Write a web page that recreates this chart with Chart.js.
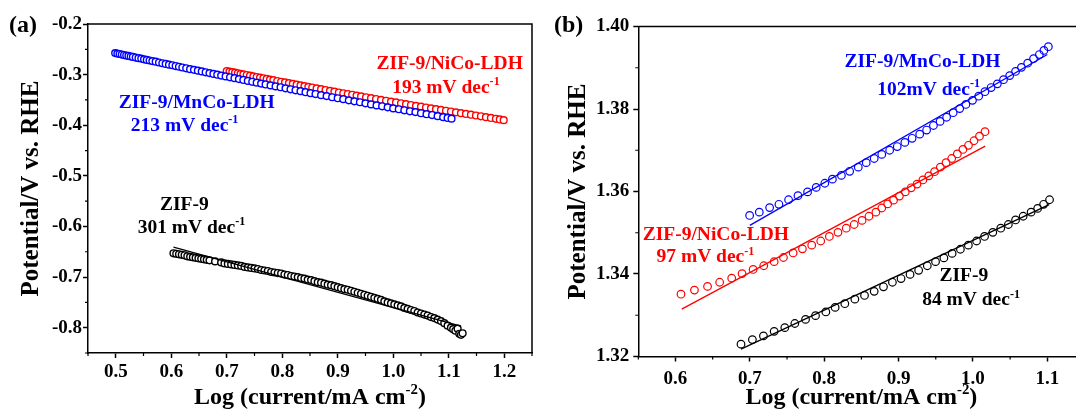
<!DOCTYPE html>
<html>
<head>
<meta charset="utf-8">
<script src="https://cdn.jsdelivr.net/npm/chart.js@4.4.0/dist/chart.umd.min.js"></script>
<style>
  html, body { margin: 0; padding: 0; background: #fff; }
  body { width: 1076px; height: 412px; overflow: hidden; position: relative; }
  canvas { position: absolute; top: 0; }
  #chartA { left: 0; }
  #chartB { left: 540px; }
</style>
</head>
<body>
<canvas id="chartA" width="540" height="412"></canvas>
<canvas id="chartB" width="560" height="412"></canvas>
<script>
const FONT = '"Liberation Serif", "Times New Roman", serif';

// ---- tick labels ----
const xTicksA = [0.5, 0.6, 0.7, 0.8, 0.9, 1.0, 1.1, 1.2];
const yTicksA = [-0.2, -0.3, -0.4, -0.5, -0.6, -0.7, -0.8];
const xTicksB = [0.6, 0.7, 0.8, 0.9, 1.0, 1.1];
const yTicksB = [1.32, 1.34, 1.36, 1.38, 1.40];

// ---- panel (a) ----
const mnCoA_x = [0.499, 0.503, 0.507, 0.511, 0.515, 0.519, 0.523, 0.527, 0.531, 0.536,
  0.541, 0.546, 0.551, 0.556, 0.561, 0.566, 0.572, 0.578, 0.584, 0.590,
  0.596, 0.602, 0.608, 0.614, 0.620, 0.627, 0.634, 0.641, 0.648, 0.655,
  0.662, 0.669, 0.676, 0.683, 0.690, 0.698, 0.706, 0.714, 0.722, 0.730,
  0.738, 0.746, 0.754, 0.762, 0.770, 0.779, 0.788, 0.797, 0.806, 0.815,
  0.824, 0.833, 0.842, 0.851, 0.860, 0.870, 0.880, 0.890, 0.900, 0.910,
  0.920, 0.930, 0.940, 0.950, 0.960, 0.970, 0.980, 0.990, 1.000, 1.010,
  1.020, 1.030, 1.040, 1.050, 1.060, 1.070, 1.080, 1.090, 1.098, 1.105];
const mnCoA_y = [-0.2575, -0.2585, -0.2593, -0.2604, -0.2613, -0.2623, -0.2630, -0.2642, -0.2651, -0.2663,
  -0.2675, -0.2684, -0.2698, -0.2710, -0.2721, -0.2733, -0.2745, -0.2761, -0.2775, -0.2789,
  -0.2803, -0.2815, -0.2831, -0.2845, -0.2859, -0.2875, -0.2892, -0.2906, -0.2922, -0.2936,
  -0.2954, -0.2970, -0.2986, -0.3002, -0.3019, -0.3035, -0.3053, -0.3070, -0.3089, -0.3105,
  -0.3124, -0.3142, -0.3159, -0.3178, -0.3194, -0.3213, -0.3233, -0.3250, -0.3271, -0.3290,
  -0.3310, -0.3327, -0.3347, -0.3366, -0.3384, -0.3406, -0.3424, -0.3447, -0.3467, -0.3485,
  -0.3508, -0.3528, -0.3546, -0.3568, -0.3588, -0.3608, -0.3626, -0.3647, -0.3667, -0.3684,
  -0.3705, -0.3725, -0.3741, -0.3762, -0.3782, -0.3799, -0.3821, -0.3840, -0.3856, -0.3870];

const niCoA_x = [0.700, 0.705, 0.710, 0.715, 0.720, 0.725, 0.730, 0.736, 0.742, 0.748,
  0.754, 0.760, 0.766, 0.772, 0.778, 0.784, 0.791, 0.798, 0.805, 0.812,
  0.819, 0.826, 0.833, 0.840, 0.847, 0.854, 0.862, 0.870, 0.878, 0.886,
  0.894, 0.902, 0.910, 0.918, 0.926, 0.934, 0.942, 0.951, 0.960, 0.969,
  0.978, 0.987, 0.996, 1.005, 1.014, 1.023, 1.032, 1.041, 1.050, 1.059,
  1.068, 1.077, 1.086, 1.095, 1.104, 1.113, 1.122, 1.131, 1.140, 1.149,
  1.158, 1.167, 1.176, 1.185, 1.192, 1.199];
const niCoA_y = [-0.2930, -0.2941, -0.2951, -0.2962, -0.2974, -0.2985, -0.2995, -0.3008, -0.3021, -0.3034,
  -0.3047, -0.3060, -0.3072, -0.3085, -0.3098, -0.3110, -0.3126, -0.3141, -0.3155, -0.3170,
  -0.3184, -0.3199, -0.3213, -0.3227, -0.3242, -0.3256, -0.3272, -0.3288, -0.3305, -0.3321,
  -0.3336, -0.3353, -0.3368, -0.3384, -0.3399, -0.3415, -0.3430, -0.3448, -0.3465, -0.3482,
  -0.3499, -0.3517, -0.3533, -0.3550, -0.3567, -0.3584, -0.3600, -0.3617, -0.3633, -0.3650,
  -0.3666, -0.3682, -0.3698, -0.3714, -0.3730, -0.3746, -0.3761, -0.3777, -0.3792, -0.3808,
  -0.3824, -0.3840, -0.3856, -0.3873, -0.3886, -0.3900];

const zifA_x = [0.604, 0.609, 0.614, 0.619, 0.624, 0.629, 0.634, 0.639, 0.644, 0.649,
  0.654, 0.659, 0.664, 0.669, 0.679, 0.690, 0.696, 0.702, 0.708, 0.714,
  0.720, 0.726, 0.732, 0.738, 0.744, 0.750, 0.756, 0.762, 0.768, 0.774,
  0.780, 0.786, 0.792, 0.798, 0.804, 0.810, 0.816, 0.822, 0.828, 0.834,
  0.840, 0.846, 0.852, 0.858, 0.864, 0.870, 0.876, 0.882, 0.888, 0.894,
  0.900, 0.906, 0.912, 0.918, 0.924, 0.930, 0.936, 0.942, 0.948, 0.954,
  0.960, 0.966, 0.972, 0.978, 0.984, 0.990, 0.996, 1.002, 1.008, 1.014,
  1.020, 1.026, 1.032, 1.038, 1.044, 1.050, 1.056, 1.062, 1.068, 1.074,
  1.080, 1.086, 1.092, 1.098, 1.104, 1.108, 1.112, 1.116, 1.119, 1.122, 1.125];
const zifA_y = [-0.653, -0.654, -0.655, -0.656, -0.657, -0.659, -0.660, -0.661, -0.662, -0.663,
  -0.664, -0.665, -0.666, -0.667, -0.669, -0.671, -0.673, -0.674, -0.675, -0.676,
  -0.677, -0.678, -0.680, -0.681, -0.682, -0.683, -0.684, -0.686, -0.687, -0.688,
  -0.690, -0.691, -0.692, -0.693, -0.695, -0.696, -0.698, -0.699, -0.700, -0.702,
  -0.703, -0.705, -0.706, -0.708, -0.710, -0.711, -0.713, -0.715, -0.716, -0.718,
  -0.720, -0.722, -0.724, -0.725, -0.727, -0.729, -0.731, -0.733, -0.735, -0.737,
  -0.739, -0.741, -0.743, -0.745, -0.748, -0.750, -0.752, -0.754, -0.756, -0.758,
  -0.761, -0.763, -0.765, -0.767, -0.770, -0.772, -0.774, -0.776, -0.779, -0.781,
  -0.784, -0.787, -0.791, -0.796, -0.800, -0.803, -0.806, -0.802, -0.812, -0.814, -0.811];

const zifFitA_x = [0.604, 1.122];
const zifFitA_y = [-0.641, -0.797];

// ---- panel (b) ----
const mnCoB_x = [0.6997, 0.7127, 0.7266, 0.7391, 0.7521, 0.7647, 0.7776, 0.7892, 0.8008, 0.8110,
  0.8231, 0.8342, 0.8458, 0.8565, 0.8672, 0.8774, 0.8880, 0.8982, 0.9084, 0.9182,
  0.9284, 0.9377, 0.9469, 0.9558, 0.9646, 0.9734, 0.9822, 0.9905, 0.9994, 1.0077,
  1.0161, 1.0244, 1.0328, 1.0411, 1.0494, 1.0573, 1.0652, 1.0736, 1.0815, 1.0893,
  1.0954, 1.1014];
const mnCoB_y = [1.3542, 1.3550, 1.3561, 1.3569, 1.3580, 1.3590, 1.3599, 1.3610, 1.3620, 1.3630,
  1.3639, 1.3649, 1.3659, 1.3670, 1.3680, 1.3690, 1.3700, 1.3709, 1.3719, 1.3729,
  1.3739, 1.3749, 1.3760, 1.3770, 1.3780, 1.3791, 1.3801, 1.3811, 1.3821, 1.3831,
  1.3842, 1.3852, 1.3861, 1.3871, 1.3881, 1.3891, 1.3901, 1.3911, 1.3922, 1.3932,
  1.3942, 1.3951];

const niCoB_x = [0.6074, 0.6255, 0.6431, 0.6594, 0.6756, 0.6895, 0.7044, 0.7187, 0.7327, 0.7452,
  0.7582, 0.7707, 0.7832, 0.7953, 0.8069, 0.8185, 0.8296, 0.8403, 0.8509, 0.8602,
  0.8695, 0.8774, 0.8853, 0.8932, 0.9011, 0.9090, 0.9169, 0.9248, 0.9327, 0.9406,
  0.9484, 0.9561, 0.9638, 0.9714, 0.9790, 0.9865, 0.9940, 1.0014, 1.0088, 1.0162];
const niCoB_y = [1.3351, 1.3361, 1.3370, 1.3380, 1.3390, 1.3401, 1.3411, 1.3420, 1.3430, 1.3440,
  1.3451, 1.3461, 1.3470, 1.3480, 1.3491, 1.3501, 1.3511, 1.3520, 1.3530, 1.3540,
  1.3550, 1.3560, 1.3570, 1.3579, 1.3589, 1.3599, 1.3609, 1.3618, 1.3628, 1.3638,
  1.3648, 1.3659, 1.3670, 1.3680, 1.3691, 1.3702, 1.3712, 1.3723, 1.3734, 1.3745];

const zifB_x = [0.6881, 0.7034, 0.7183, 0.7327, 0.7470, 0.7605, 0.7749, 0.7883, 0.8022, 0.8147,
  0.8277, 0.8412, 0.8542, 0.8672, 0.8797, 0.8917, 0.9033, 0.9154, 0.9270, 0.9386,
  0.9497, 0.9609, 0.9720, 0.9831, 0.9938, 1.0049, 1.0156, 1.0267, 1.0374, 1.0476,
  1.0573, 1.0675, 1.0782, 1.0870, 1.0950, 1.1030];
const zifB_y = [1.3230, 1.3241, 1.3250, 1.3261, 1.3270, 1.3280, 1.3290, 1.3299, 1.3308, 1.3319,
  1.3328, 1.3339, 1.3348, 1.3358, 1.3369, 1.3380, 1.3389, 1.3399, 1.3409, 1.3420,
  1.3430, 1.3439, 1.3450, 1.3460, 1.3470, 1.3480, 1.3491, 1.3501, 1.3511, 1.3520,
  1.3531, 1.3540, 1.3550, 1.3559, 1.3569, 1.3580];

const mnCoFitB_x = [0.700, 1.100];
const mnCoFitB_y = [1.3518, 1.3932];
const niCoFitB_x = [0.6084, 1.0165];
const niCoFitB_y = [1.3315, 1.3710];
const zifFitB_x = [0.6881, 1.1025];
const zifFitB_y = [1.3218, 1.3568];

const BLUE = '#0000ff', RED = '#ff0000', BLACK = '#000000';

function pts(xs, ys) { return xs.map((x, i) => ({ x: x, y: ys[i] })); }

function drawRich(ctx, parts, x, y, size, color, align) {
  ctx.save();
  ctx.fillStyle = color;
  ctx.textBaseline = 'alphabetic';
  ctx.textAlign = 'left';
  const fonts = parts.map(p => 'bold ' + (p[1] ? size * 0.62 : size) + 'px ' + FONT);
  let w = 0;
  parts.forEach((p, i) => { ctx.font = fonts[i]; w += ctx.measureText(p[0]).width; });
  let cx = align === 'center' ? x - w / 2 : x;
  parts.forEach((p, i) => {
    ctx.font = fonts[i];
    ctx.fillText(p[0], cx, p[1] ? y - size * 0.4 : y);
    cx += ctx.measureText(p[0]).width;
  });
  ctx.restore();
}

function minors(major, min, max) {
  const step = major[1] - major[0];
  const out = [];
  for (let i = -1; i < major.length; i++) {
    const v = major[0] + step * (i + 0.5);
    if (v > Math.min(min, max) - 1e-9 && v < Math.max(min, max) + 1e-9) out.push(v);
  }
  return out;
}

// frame, minor ticks, labels and x title
const decorPlugin = {
  id: 'decor',
  afterDatasetsDraw(chart, args, o) {
    const { ctx, chartArea: a, scales: { x, y } } = chart;
    ctx.save();
    ctx.strokeStyle = '#000';
    ctx.lineWidth = 1.5;
    ctx.beginPath();
    ctx.moveTo(a.left, a.top);
    ctx.lineTo(a.right, a.top);
    ctx.lineTo(a.right, a.bottom);
    ctx.stroke();
    ctx.lineWidth = 1.2;
    ctx.beginPath();
    minors(o.xMajor, x.min, x.max).forEach(v => {
      const p = x.getPixelForValue(v);
      ctx.moveTo(p, a.bottom); ctx.lineTo(p, a.bottom + 3);
    });
    minors(o.yMajor, y.min, y.max).forEach(v => {
      const p = y.getPixelForValue(v);
      ctx.moveTo(a.left, p); ctx.lineTo(a.left - 3, p);
    });
    ctx.stroke();
    ctx.restore();

    o.labels.forEach(l => {
      drawRich(ctx, l.parts, x.getPixelForValue(l.x), y.getPixelForValue(l.y), o.labelSize, l.color, 'left');
    });
    drawRich(ctx, [['Log (current/mA cm'], ['-2', true], [')']], (a.left + a.right) / 2, o.titleY, 24, '#000', 'center');
    drawRich(ctx, [[o.panel]], o.panelX, 32, 24, '#000', 'left');
  }
};

function makeChart(id, cfg) {
  const font = { family: FONT, size: 19, weight: 'bold' };
  new Chart(document.getElementById(id).getContext('2d'), {
    type: 'scatter',
    data: { datasets: cfg.datasets },
    options: {
      responsive: false,
      animation: false,
      devicePixelRatio: 1,
      layout: { padding: cfg.padding },
      plugins: {
        legend: { display: false },
        tooltip: { enabled: false },
        decor: cfg.decor
      },
      scales: {
        x: {
          type: 'linear', min: cfg.xMin, max: cfg.xMax,
          afterBuildTicks: s => { s.ticks = cfg.xTicks.map(v => ({ value: v })); },
          afterFit: s => { s.height = cfg.xHeight; },
          ticks: { font: font, color: '#000', padding: cfg.xPad, maxRotation: 0, autoSkip: false,
                   callback: v => v.toFixed(1) },
          grid: { drawOnChartArea: false, tickLength: 5, tickWidth: 1.5, tickColor: '#000' },
          border: { color: '#000', width: 1.5 }
        },
        y: {
          type: 'linear', min: cfg.yMin, max: cfg.yMax,
          afterBuildTicks: s => { s.ticks = cfg.yTicks.map(v => ({ value: v })); },
          afterFit: s => { s.width = cfg.yWidth; },
          ticks: { font: font, color: '#000', padding: cfg.yPad, autoSkip: false,
                   callback: v => v.toFixed(cfg.yDigits) },
          grid: { drawOnChartArea: false, tickLength: 5, tickWidth: 1.5, tickColor: '#000' },
          border: { color: '#000', width: 1.5 },
          title: { display: true, text: 'Potential/V vs. RHE', color: '#000',
                   font: { family: FONT, size: 25, weight: 'bold' },
                   padding: { top: cfg.yTitlePad, bottom: 0 } }
        }
      }
    },
    plugins: [decorPlugin]
  });
}

function scatterSet(xs, ys, color, r, fill, bw) {
  return { data: pts(xs, ys), showLine: false, order: 1,
           pointRadius: r, pointBorderWidth: bw, pointBorderColor: color,
           pointBackgroundColor: fill, pointStyle: 'circle' };
}
function fitSet(xs, ys, color) {
  return { data: pts(xs, ys), showLine: true, order: 0, borderColor: color,
           borderWidth: 1.3, pointRadius: 0, fill: false };
}

makeChart('chartA', {
  datasets: [
    scatterSet(zifA_x, zifA_y, BLACK, 3.4, '#fff', 1.4),
    scatterSet(mnCoA_x, mnCoA_y, BLUE, 3.4, '#fff', 1.4),
    scatterSet(niCoA_x, niCoA_y, RED, 3.4, '#fff', 1.4),
    fitSet(zifFitA_x, zifFitA_y, BLACK)
  ],
  padding: { left: 0, right: 8, top: 24, bottom: 0 },
  xMin: 0.45, xMax: 1.25, yMin: -0.85, yMax: -0.2,
  xTicks: xTicksA, yTicks: yTicksA, yDigits: 1,
  xHeight: 59, yWidth: 88, xPad: 3, yPad: 1, yTitlePad: 17,
  decor: {
    panel: '(a)', panelX: 9, titleY: 404, labelSize: 19.5,
    xMajor: xTicksA, yMajor: yTicksA,
    labels: [
      { x: 0.970, y: -0.2889, color: RED, parts: [['ZIF-9/NiCo-LDH']] },
      { x: 0.998, y: -0.3363, color: RED, parts: [['193 mV dec'], ['-1', true]] },
      { x: 0.5054, y: -0.3663, color: BLUE, parts: [['ZIF-9/MnCo-LDH']] },
      { x: 0.5272, y: -0.4118, color: BLUE, parts: [['213 mV dec'], ['-1', true]] },
      { x: 0.5796, y: -0.5677, color: BLACK, parts: [['ZIF-9']] },
      { x: 0.5395, y: -0.6132, color: BLACK, parts: [['301 mV dec'], ['-1', true]] }
    ]
  }
});

makeChart('chartB', {
  datasets: [
    scatterSet(mnCoB_x, mnCoB_y, BLUE, 3.8, 'rgba(0,0,0,0)', 1.2),
    scatterSet(niCoB_x, niCoB_y, RED, 3.8, 'rgba(0,0,0,0)', 1.2),
    scatterSet(zifB_x, zifB_y, BLACK, 3.8, 'rgba(0,0,0,0)', 1.2),
    fitSet(mnCoFitB_x, mnCoFitB_y, BLUE),
    fitSet(niCoFitB_x, niCoFitB_y, RED),
    fitSet(zifFitB_x, zifFitB_y, BLACK)
  ],
  padding: { left: 0, right: 15.5, top: 26.5, bottom: 0 },
  xMin: 0.55, xMax: 1.15, yMin: 1.32, yMax: 1.40,
  xTicks: xTicksB, yTicks: yTicksB, yDigits: 2,
  xHeight: 55.5, yWidth: 98.3, xPad: 6, yPad: 4, yTitlePad: 24,
  decor: {
    panel: '(b)', panelX: 14, titleY: 404, labelSize: 19.5,
    xMajor: xTicksB, yMajor: yTicksB,
    labels: [
      { x: 0.8273, y: 1.3903, color: BLUE, parts: [['ZIF-9/MnCo-LDH']] },
      { x: 0.8714, y: 1.3835, color: BLUE, parts: [['102mV dec'], ['-1', true]] },
      { x: 0.5559, y: 1.3483, color: RED, parts: [['ZIF-9/NiCo-LDH']] },
      { x: 0.5745, y: 1.3428, color: RED, parts: [['97 mV dec'], ['-1', true]] },
      { x: 0.9549, y: 1.3383, color: BLACK, parts: [['ZIF-9']] },
      { x: 0.9317, y: 1.3324, color: BLACK, parts: [['84 mV dec'], ['-1', true]] }
    ]
  }
});
</script>
</body>
</html>
